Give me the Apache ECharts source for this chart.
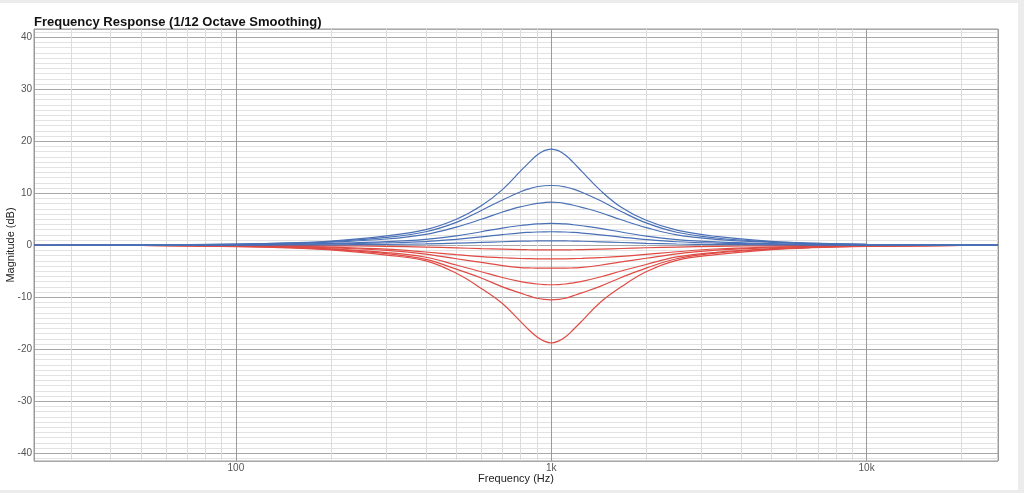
<!DOCTYPE html>
<html>
<head>
<meta charset="utf-8">
<script src="https://cdn.jsdelivr.net/npm/echarts@6/dist/echarts.min.js"></script>
<style>
html,body{margin:0;padding:0;background:#ececec;width:1024px;height:493px;overflow:hidden;}
#chart{position:absolute;left:0;top:3px;width:1018px;height:487px;background:#fff;}
</style>
</head>
<body>
<div id="chart"></div>
<script>
// Frequencies (Hz) at which the curves were read
const freqs = [22.9, 50, 100, 150, 200, 300, 400, 500, 600, 700, 800, 850, 900, 950, 1000,
               1053, 1111, 1176, 1250, 1429, 1667, 2000, 2500, 3333, 5000, 6667, 10000, 20000, 26100];

// Boost curves (dB)
const boost1 = [0, 0.05, 0.2, 0.45, 0.8, 1.8, 3.0, 5.0, 7.6, 10.7, 14.3, 15.9, 17.3, 18.2, 18.5,
                18.2, 17.3, 15.9, 14.2, 10.6, 7.3, 4.8, 2.9, 1.7, 0.75, 0.42, 0.18, 0.04, 0.02];
const boost2 = [0, 0.05, 0.2, 0.4, 0.7, 1.5, 2.6, 4.4, 6.7, 8.7, 10.3, 10.85, 11.25, 11.45, 11.5,
                11.45, 11.2, 10.8, 10.2, 8.6, 6.5, 4.3, 2.5, 1.4, 0.65, 0.37, 0.18, 0.04, 0.02];
const boost3 = [0, 0.04, 0.15, 0.35, 0.6, 1.2, 2.1, 3.5, 5.0, 6.4, 7.4, 7.75, 8.05, 8.22, 8.3,
                8.22, 8.0, 7.7, 7.3, 6.3, 4.9, 3.4, 2.0, 1.15, 0.55, 0.32, 0.14, 0.03, 0.02];
const boost4 = [0, 0.02, 0.1, 0.2, 0.35, 0.7, 1.15, 1.8, 2.6, 3.3, 3.8, 3.97, 4.1, 4.17, 4.2,
                4.17, 4.1, 3.95, 3.75, 3.25, 2.55, 1.75, 1.1, 0.65, 0.32, 0.19, 0.09, 0.02, 0.01];
const boost5 = [0, 0.02, 0.07, 0.15, 0.25, 0.45, 0.7, 1.15, 1.6, 2.05, 2.4, 2.49, 2.55, 2.59, 2.6,
                2.59, 2.55, 2.47, 2.35, 2.0, 1.58, 1.1, 0.68, 0.42, 0.23, 0.14, 0.06, 0.02, 0.01];
const boost6 = [0, 0.01, 0.03, 0.05, 0.08, 0.15, 0.25, 0.4, 0.55, 0.68, 0.78, 0.81, 0.83, 0.845, 0.85,
                0.845, 0.83, 0.8, 0.77, 0.67, 0.53, 0.38, 0.24, 0.15, 0.08, 0.04, 0.02, 0.01, 0];

// Cut curves (dB)
const cut1 = [0, -0.01, -0.03, -0.06, -0.1, -0.2, -0.35, -0.5, -0.65, -0.75, -0.84, -0.86, -0.88, -0.895, -0.9,
              -0.895, -0.88, -0.86, -0.83, -0.74, -0.62, -0.48, -0.34, -0.2, -0.1, -0.06, -0.03, -0.01, 0];
const cut2 = [0, -0.02, -0.08, -0.2, -0.35, -0.75, -1.3, -1.8, -2.2, -2.4, -2.55, -2.58, -2.6, -2.6, -2.6,
              -2.6, -2.6, -2.57, -2.52, -2.38, -2.15, -1.75, -1.25, -0.72, -0.34, -0.19, -0.08, -0.02, -0.01];
const cut3 = [0, -0.03, -0.12, -0.3, -0.5, -1.0, -1.7, -2.6, -3.3, -3.9, -4.3, -4.36, -4.4, -4.4, -4.4,
              -4.4, -4.4, -4.35, -4.27, -3.85, -3.2, -2.5, -1.65, -0.95, -0.48, -0.28, -0.11, -0.03, -0.02];
const cut4 = [0, -0.04, -0.18, -0.4, -0.7, -1.4, -2.3, -3.8, -5.1, -6.2, -7.0, -7.25, -7.45, -7.56, -7.6,
              -7.56, -7.45, -7.22, -6.95, -6.1, -4.95, -3.7, -2.25, -1.35, -0.66, -0.38, -0.17, -0.04, -0.02];
const cut5 = [0, -0.05, -0.2, -0.45, -0.8, -1.6, -2.7, -4.6, -6.3, -8.0, -9.2, -9.75, -10.2, -10.42, -10.5,
              -10.42, -10.2, -9.7, -9.15, -7.9, -6.2, -4.4, -2.6, -1.5, -0.76, -0.42, -0.19, -0.05, -0.02];
const cut6 = [0, -0.05, -0.25, -0.5, -0.9, -1.9, -3.0, -5.4, -8.3, -11.2, -14.7, -16.3, -17.6, -18.45, -18.8,
              -18.45, -17.6, -16.2, -14.6, -11.0, -8.0, -5.1, -2.9, -1.8, -0.85, -0.48, -0.23, -0.05, -0.02];

// Axis ticks
const xTicks = [100, 1000, 10000];
const xTickLabels = ['100', '1k', '10k'];
const xMinorGrid = [30, 40, 50, 60, 70, 80, 90, 200, 300, 400, 500, 600, 700, 800, 900,
                    2000, 3000, 4000, 5000, 6000, 7000, 8000, 9000, 20000];
const xRange = [22.9, 26100];
const yRange = [-41.5, 41.6];

const BLUE = '#4a70b6';
const RED = '#df4b45';

function mk(vals, color) {
  return {
    type: 'line',
    data: freqs.map((f, i) => [f, vals[i]]),
    showSymbol: false,
    smooth: 0.4,
    lineStyle: { color: color, width: 1.2 },
    z: 5,
    silent: true
  };
}

const series = [
  {
    type: 'line',
    data: [[1000, 0]],
    showSymbol: false,
    lineStyle: { opacity: 0 },
    z: 1,
    silent: true,
    markLine: {
      silent: true,
      symbol: ['none', 'none'],
      label: { show: false },
      lineStyle: { color: '#dcdcdc', width: 1, type: 'solid' },
      data: xMinorGrid.map(f => ({ xAxis: f })),
      animation: false
    }
  },
  mk(cut1, RED), mk(cut2, RED), mk(cut3, RED), mk(cut4, RED), mk(cut5, RED), mk(cut6, RED),
  mk(boost6, BLUE), mk(boost5, BLUE), mk(boost4, BLUE), mk(boost3, BLUE), mk(boost2, BLUE), mk(boost1, BLUE)
];

const chart = echarts.init(document.getElementById('chart'), null, { renderer: 'canvas' });
chart.setOption({
  animation: false,
  backgroundColor: '#fff',
  textStyle: { fontFamily: 'Liberation Sans, Arial, sans-serif' },
  title: {
    text: 'Frequency Response (1/12 Octave Smoothing)',
    left: 29,
    top: 8,
    textStyle: { fontSize: 13, fontWeight: 'bold', color: '#111', fontFamily: 'Liberation Sans, Arial, sans-serif' }
  },
  grid: { left: 34, top: 26, width: 964, height: 432, show: true, borderColor: '#9a9a9a', borderWidth: 1,
          containLabel: false, outerBoundsMode: 'none' },
  xAxis: {
    type: 'log',
    logBase: 10,
    min: xRange[0],
    max: xRange[1],
    name: 'Frequency (Hz)',
    nameLocation: 'middle',
    nameGap: 12,
    nameMoveOverlap: false,
    nameTextStyle: { fontSize: 11, color: '#222', verticalAlign: 'top' },
    axisLine: { show: false },
    axisTick: { show: false },
    axisLabel: {
      fontSize: 10, color: '#555', margin: 2,
      showMinLabel: false, showMaxLabel: false,
      formatter: v => { const i = xTicks.findIndex(t => Math.abs(t - v) / t < 1e-6); return i >= 0 ? xTickLabels[i] : ''; }
    },
    splitLine: { show: true, lineStyle: { color: '#9a9a9a', width: 1 } },
    minorSplitLine: { show: false }
  },
  yAxis: {
    type: 'value',
    min: yRange[0],
    max: yRange[1],
    splitNumber: 8,
    name: 'Magnitude (dB)',
    nameLocation: 'middle',
    nameRotate: 90,
    nameGap: 18,
    nameMoveOverlap: false,
    nameTextStyle: { fontSize: 11, color: '#222' },
    axisLine: { show: false },
    axisTick: { show: false },
    axisLabel: { fontSize: 10, color: '#555', margin: 2, showMinLabel: false, showMaxLabel: false },
    splitLine: { show: true, lineStyle: { color: '#a8a8a8', width: 1 } },
    minorTick: { show: false, splitNumber: 10 },
    minorSplitLine: { show: true, lineStyle: { color: '#e2e2e2', width: 1 } }
  },
  series: series
});
</script>
</body>
</html>
